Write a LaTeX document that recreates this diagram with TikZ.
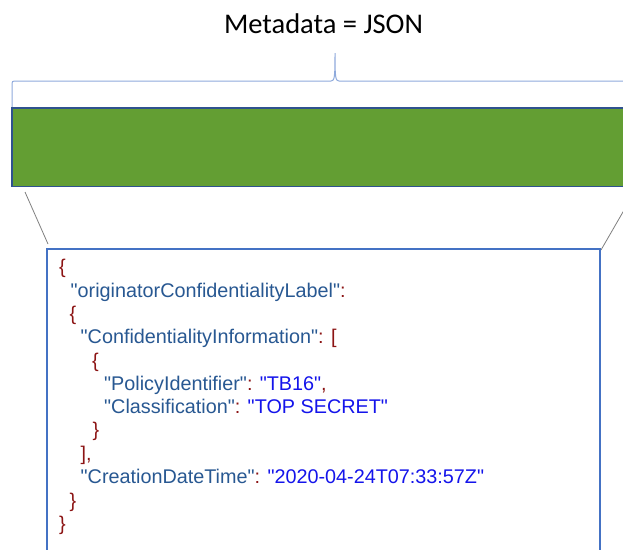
\documentclass[tikz,border=0pt]{standalone}
\usepackage{fontspec}
\setmainfont{Liberation Sans}[Ligatures=TeXOff]
\newfontfamily\titlefont{Carlito}
\definecolor{keycol}{RGB}{40,88,146}
\definecolor{strcol}{RGB}{20,20,235}
\definecolor{puncol}{RGB}{140,20,20}
\definecolor{barfill}{RGB}{99,158,51}
\definecolor{barline}{RGB}{47,82,143}
\definecolor{bracecol}{RGB}{143,170,220}
\definecolor{boxline}{RGB}{68,114,196}
\newcommand{\dq}{\symbol{34}}
\newcommand{\jk}[1]{\textcolor{keycol}{\dq#1\dq}}
\newcommand{\js}[1]{\textcolor{strcol}{\dq#1\dq}}
\newcommand{\jp}[1]{\textcolor{puncol}{#1}}
\tikzset{
  jline/.style={anchor=base west, inner sep=0pt, font=\fontsize{19.8}{23.4}\selectfont},
  greenbar/.style={draw=barline, line width=1.3pt, fill=barfill, inner sep=0pt},
  jsonbox/.style={draw=boxline, line width=1.4pt, fill=white, inner sep=0pt},
  connector/.style={draw=gray, line width=0.8pt},
  bracestyle/.style={draw=bracecol, line width=1pt}
}
\begin{document}
\begin{tikzpicture}[x=1pt, y=-1pt]
\clip (0,0) rectangle (623,549);
\fill[white] (0,0) rectangle (623,549);
% title
\node[anchor=base, inner sep=0pt, font=\titlefont\fontsize{28.5}{30}\selectfont] (title) at (323.5,33) {Metadata = JSON};
% brace
\draw[bracestyle] (12,107) -- (12,86) .. controls (12,81) .. (17,81) -- (331,81)
  .. controls (334.5,81) and (335,78) .. (335,53)
  .. controls (335,78) and (335.5,81) .. (339,81) -- (640,81);
% green bar
\node[greenbar, minimum width=618pt, minimum height=78.5pt] (bar) at (321,147.25) {};
% connectors
\coordinate (gl) at (25,192);
\coordinate (jl) at (48,244);
\coordinate (gr) at (627,205);
\coordinate (jr) at (601,250);
\draw[connector] (gl) -- (jl);
\draw[connector] (gr) -- (jr);
% json box
\node[jsonbox, minimum width=553pt, minimum height=321pt] (box) at (323.5,409.5) {};
% json lines
\node[jline] (l1) at (59,273) {\jp{\{}};
\node[jline] (l2) at (70.5,297) {\jk{originatorConfidentialityLabel}\jp{:}};
\node[jline] (l3) at (69.5,320) {\jp{\{}};
\node[jline] (l4) at (80.5,343) {\jk{ConfidentialityInformation}\jp{: [}};
\node[jline] (l5) at (92,367) {\jp{\{}};
\node[jline] (l6) at (104,390) {\jk{PolicyIdentifier}\jp{: }\js{TB16}\jp{,}};
\node[jline] (l7) at (104,413) {\jk{Classification}\jp{: }\js{TOP SECRET}};
\node[jline] (l8) at (92.5,436) {\jp{\}}};
\node[jline] (l9) at (80.5,460) {\jp{],}};
\node[jline] (l10) at (80.5,483) {\jk{CreationDateTime}\jp{: }\js{2020-04-24T07:33:57Z}};
\node[jline] (l11) at (69.5,507) {\jp{\}}};
\node[jline] (l12) at (59,530) {\jp{\}}};
\end{tikzpicture}
\end{document}
